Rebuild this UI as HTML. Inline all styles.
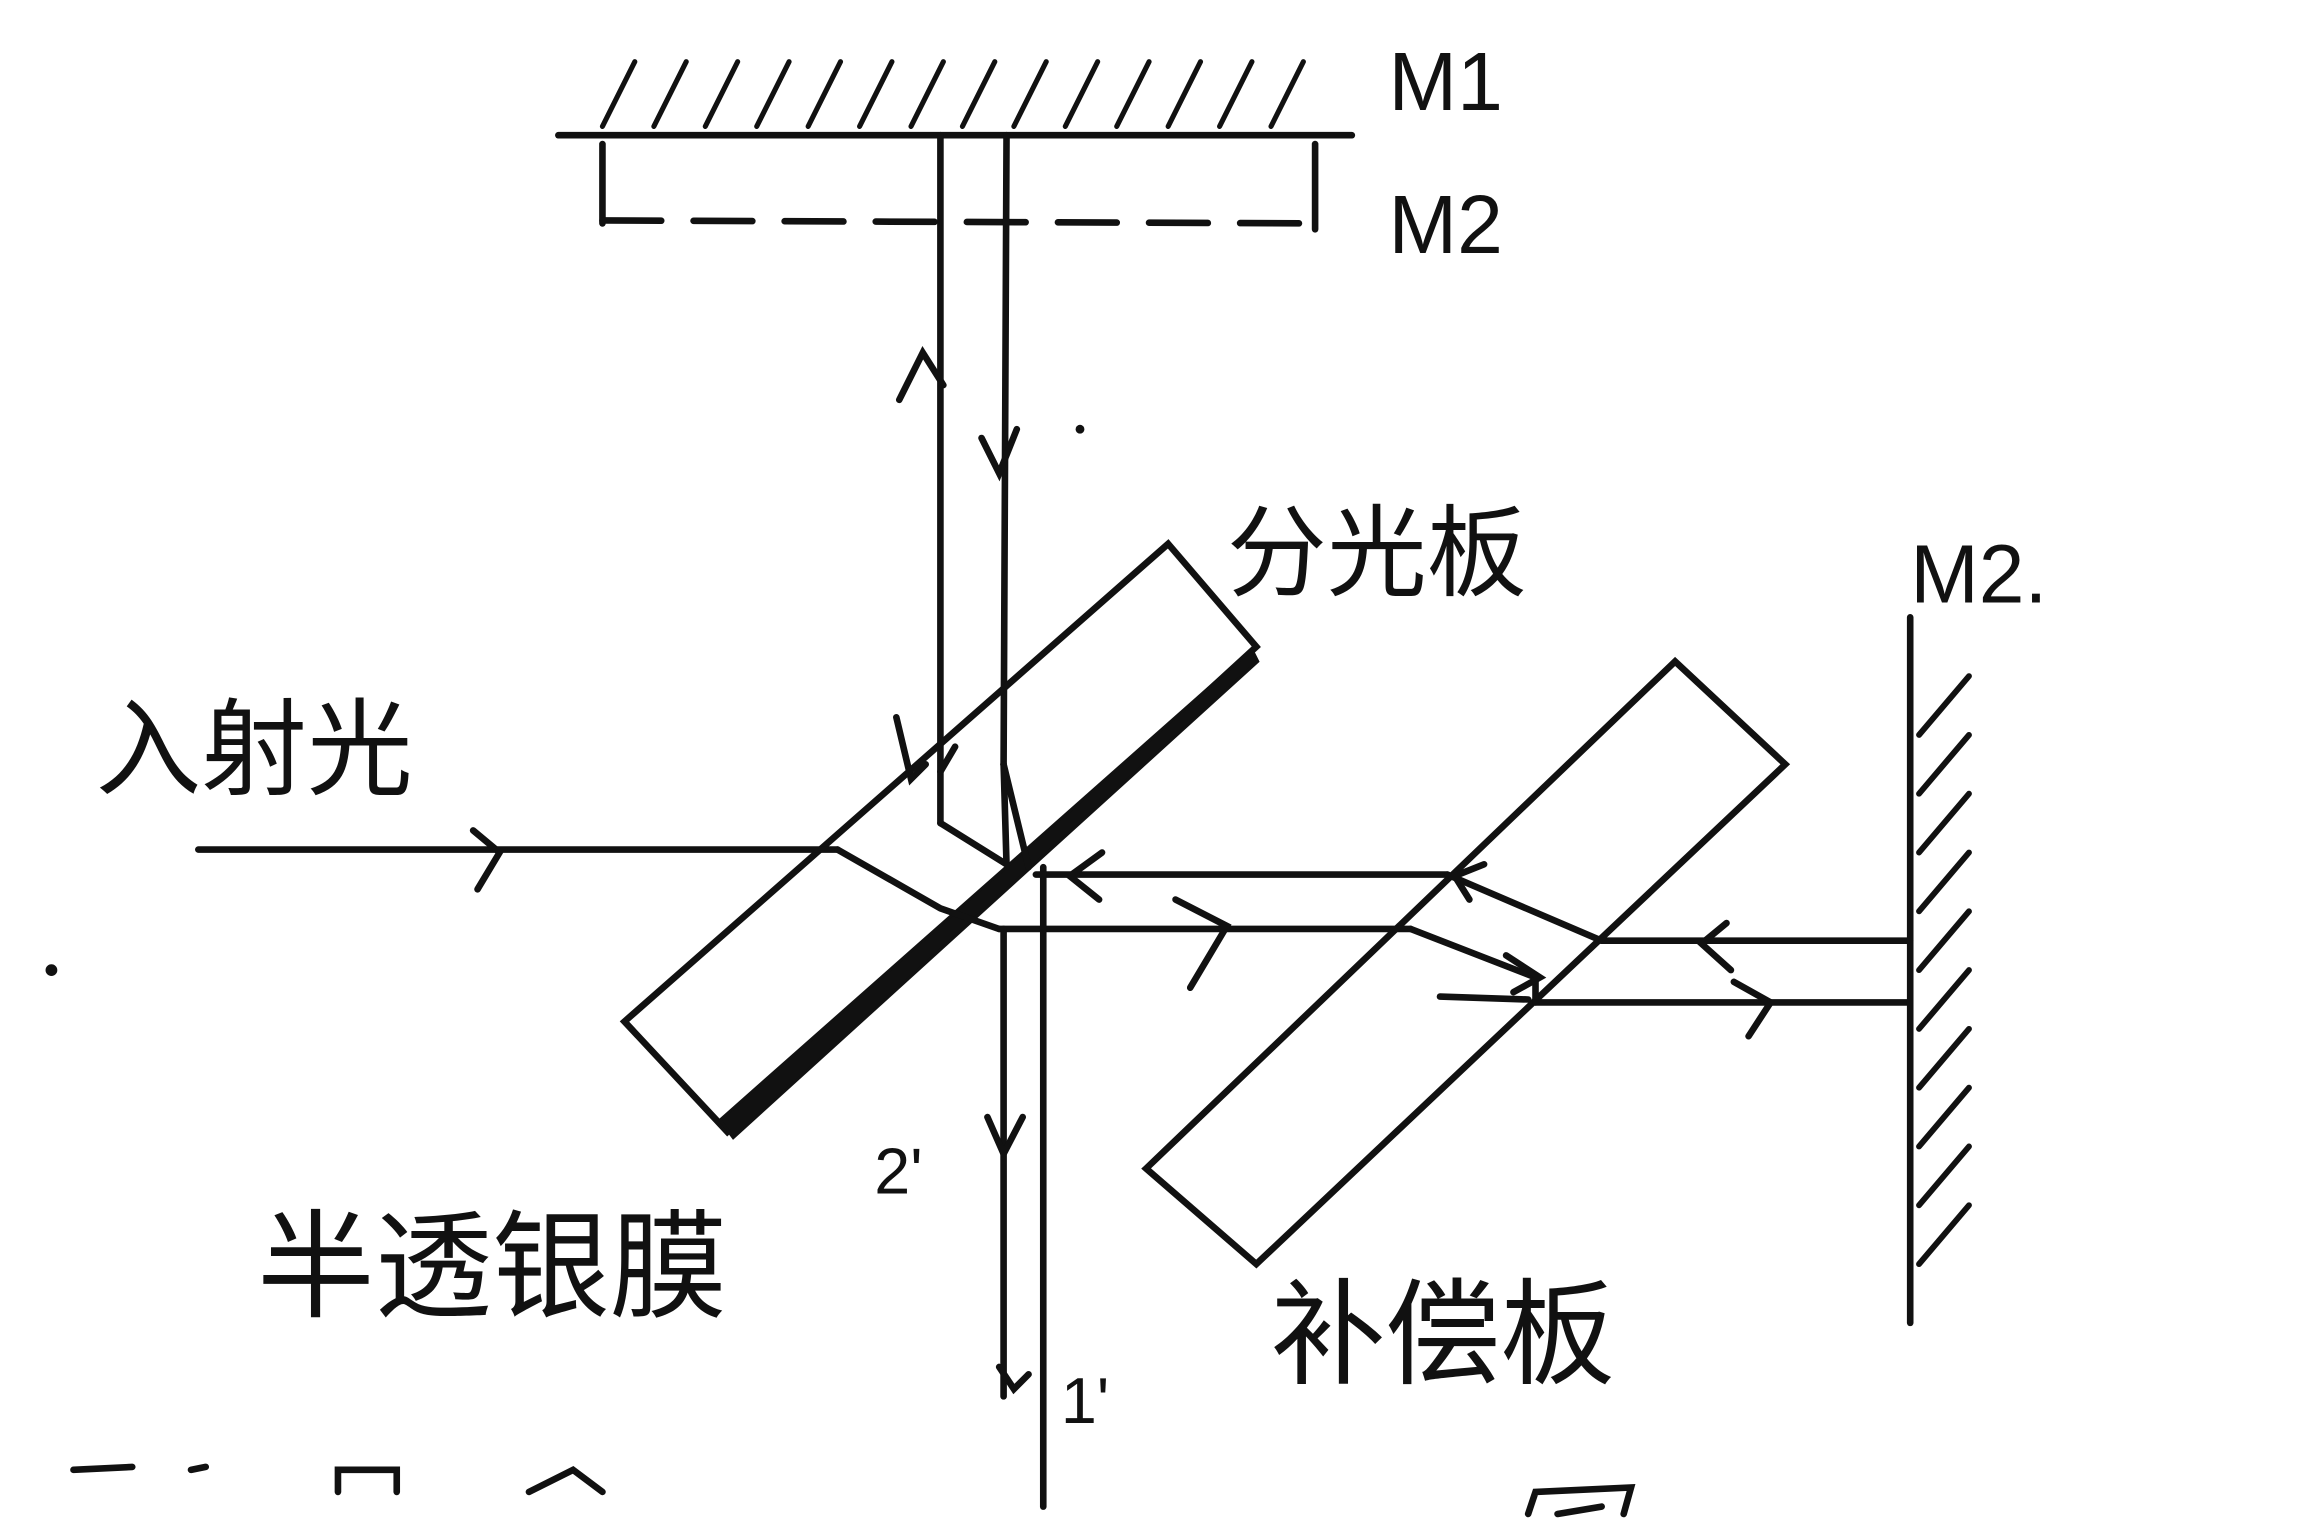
<!DOCTYPE html>
<html><head><meta charset="utf-8"><style>
html,body{margin:0;padding:0;background:#fff;width:2304px;height:1536px;overflow:hidden}
svg{display:block}
text{font-family:"Liberation Sans","Noto Sans CJK SC",sans-serif;fill:#111}
</style></head><body>
<svg width="2304" height="1536" viewBox="0 0 1568 1045" preserveAspectRatio="none" xmlns="http://www.w3.org/2000/svg">
<rect width="1568" height="1045" fill="#fff"/>
<g stroke="#111" stroke-width="4.5" fill="none" stroke-linecap="round">
<!-- M1 -->
<line x1="380" y1="92" x2="920" y2="92"/>
<g stroke-width="3.5">
<line x1="410" y1="86" x2="432" y2="42"/><line x1="445" y1="86" x2="467" y2="42"/><line x1="480" y1="86" x2="502" y2="42"/><line x1="515" y1="86" x2="537" y2="42"/><line x1="550" y1="86" x2="572" y2="42"/><line x1="585" y1="86" x2="607" y2="42"/><line x1="620" y1="86" x2="642" y2="42"/><line x1="655" y1="86" x2="677" y2="42"/><line x1="690" y1="86" x2="712" y2="42"/><line x1="725" y1="86" x2="747" y2="42"/><line x1="760" y1="86" x2="782" y2="42"/><line x1="795" y1="86" x2="817" y2="42"/><line x1="830" y1="86" x2="852" y2="42"/><line x1="865" y1="86" x2="887" y2="42"/>
</g>
<!-- virtual M2 -->
<line x1="410" y1="98" x2="410" y2="152"/>
<line x1="895" y1="98" x2="895" y2="156"/>
<line x1="410" y1="150" x2="895" y2="152" stroke-dasharray="40,22"/>
<!-- vertical beams up -->
<line x1="640" y1="92" x2="640" y2="560"/>
<line x1="685" y1="92" x2="683" y2="520"/>
<path d="M612 272 L628 240 L642 262"/>
<path d="M668 298 L680 322 L692 292"/>
<path d="M610 488 L620 530 L630 520"/>
<path d="M640 525 L650 508"/>
<!-- beam splitter -->
<polygon points="795,370 855,440 495,770 425,695"/>
<polygon points="852,442 856,450 499,774 490,762" fill="#111" stroke-width="2"/>
<!-- compensator -->
<polygon points="1140,450 1215,520 855,860 780,795"/>
<!-- incident -->
<line x1="135" y1="578" x2="570" y2="578"/>
<path d="M322 565 L340 580 L325 605"/>
<path d="M570 578 L640 618 L680 632"/>
<path d="M640 560 L685 588 L683 520"/>
<path d="M683 520 L700 590"/>
<!-- horizontal beams -->
<line x1="705" y1="595" x2="985" y2="595"/>
<line x1="985" y1="595" x2="1090" y2="640"/>
<line x1="1090" y1="640" x2="1300" y2="640"/>
<line x1="680" y1="632" x2="960" y2="632"/>
<path d="M960 632 L1045 665 L1045 682"/>
<line x1="1045" y1="682" x2="1300" y2="682"/>
<path d="M750 580 L728 596 L748 612"/>
<path d="M800 612 L835 630 L810 672"/>
<path d="M1000 612 L990 596 L1010 588"/>
<path d="M1025 650 L1048 665 L1030 675"/>
<path d="M980 678 L1040 680"/>
<path d="M1175 628 L1158 642 L1178 660"/>
<path d="M1180 668 L1205 682 L1190 705"/>
<!-- down beams -->
<line x1="683" y1="632" x2="683" y2="950"/>
<line x1="710" y1="590" x2="710" y2="1025"/>
<path d="M672 760 L683 785 L696 760"/>
<path d="M680 930 L690 945 L700 935"/>
<!-- M2 right -->
<line x1="1300" y1="420" x2="1300" y2="900"/>
<g stroke-width="4">
<line x1="1306" y1="500" x2="1340" y2="460"/><line x1="1306" y1="540" x2="1340" y2="500"/><line x1="1306" y1="580" x2="1340" y2="540"/><line x1="1306" y1="620" x2="1340" y2="580"/><line x1="1306" y1="660" x2="1340" y2="620"/><line x1="1306" y1="700" x2="1340" y2="660"/><line x1="1306" y1="740" x2="1340" y2="700"/><line x1="1306" y1="780" x2="1340" y2="740"/><line x1="1306" y1="820" x2="1340" y2="780"/><line x1="1306" y1="860" x2="1340" y2="820"/>
</g>
<!-- cut-off text at bottom -->
<path d="M50 1000 L90 998 M130 1000 L140 998 M230 1015 L230 1000 L270 1000 L270 1015 M360 1015 L390 1000 L410 1015"/>
<path d="M1040 1030 L1045 1015 L1110 1012 L1105 1030 M1060 1030 L1090 1025"/>
</g>
<circle cx="35" cy="660" r="4" fill="#111"/>
<circle cx="735" cy="292" r="3" fill="#111"/>
<text x="945" y="75" font-size="56">M1</text>
<text x="945" y="172" font-size="56">M2</text>
<text x="1300" y="410" font-size="56">M2.</text>
<text x="835" y="400" font-size="68">分光板</text>
<text x="65" y="535" font-size="72">入射光</text>
<text x="175" y="890" font-size="80">半透银膜</text>
<text x="865" y="935" font-size="78">补偿板</text>
<text x="595" y="812" font-size="44">2'</text>
<text x="722" y="968" font-size="44">1'</text>
</svg>
</body></html>
